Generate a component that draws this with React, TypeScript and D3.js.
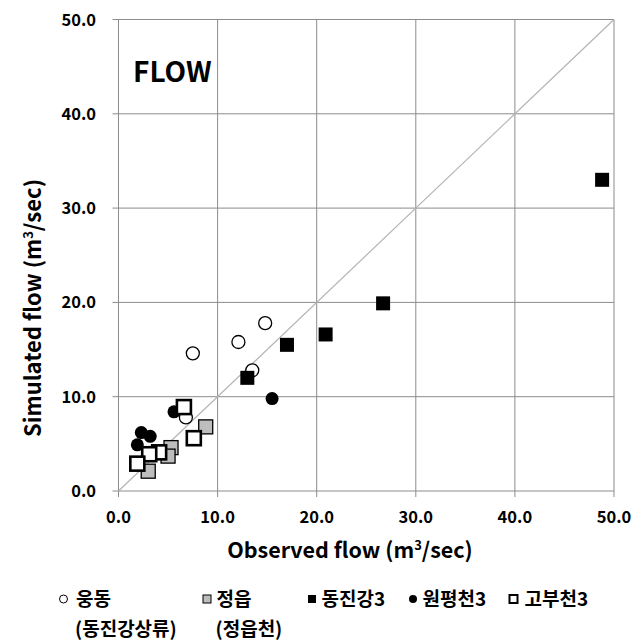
import React from 'react';
import * as d3 from 'd3';

const ungdongObs = [7.5, 12.1, 14.8, 13.5, 6.8];
const ungdongSim = [14.6, 15.8, 17.8, 12.8, 7.8];
const jeongeupObs = [8.8, 5.3, 5.0, 3.0];
const jeongeupSim = [6.8, 4.6, 3.7, 2.1];
const dongjinObs = [13.0, 17.0, 20.9, 26.7, 48.8];
const dongjinSim = [12.0, 15.5, 16.6, 19.9, 33.0];
const wonpyeongObs = [15.5, 5.6, 2.3, 3.2, 1.9];
const wonpyeongSim = [9.8, 8.4, 6.2, 5.8, 4.9];
const gobuObs = [6.6, 7.6, 4.1, 3.1, 1.9];
const gobuSim = [8.9, 5.6, 4.1, 3.9, 2.9];

const ticks = [0, 10, 20, 30, 40, 50];

// lx = legend marker centre, tx = legend text start
const series = [
  { name: '웅동', sub: '(동진강상류)', shape: 'circle', fill: '#fff', xs: ungdongObs, ys: ungdongSim, lx: 63.5, tx: 76 },
  { name: '정읍', sub: '(정읍천)', shape: 'square', fill: '#bdbdbd', xs: jeongeupObs, ys: jeongeupSim, lx: 207, tx: 216.5 },
  { name: '동진강3', sub: '', shape: 'square', fill: '#000', xs: dongjinObs, ys: dongjinSim, lx: 312, tx: 321.5 },
  { name: '원평천3', sub: '', shape: 'circle', fill: '#000', xs: wonpyeongObs, ys: wonpyeongSim, lx: 413, tx: 422.5 },
  { name: '고부천3', sub: '', shape: 'square', fill: '#fff', xs: gobuObs, ys: gobuSim, lx: 513.5, tx: 524.5 },
];

const font = "'Noto Sans CJK KR', 'Open Sans', sans-serif";

function Marker({ s, cx, cy, size, sw }: { s: any; cx: number; cy: number; size: number; sw: number }) {
  if (s.shape === 'circle') {
    return <circle cx={cx} cy={cy} r={size / 2} fill={s.fill} stroke="#000" strokeWidth={s.fill === '#000' ? 0 : sw} />;
  }
  const thick = s.fill === '#fff' ? sw * 2 : sw;
  return (
    <rect x={cx - size / 2} y={cy - size / 2} width={size} height={size}
      fill={s.fill} stroke="#000" strokeWidth={s.fill === '#000' ? 0 : thick} />
  );
}

export default function App() {
  const W = 643, H = 643;
  const left = 118.5, right = 614, top = 19.5, bottom = 491;

  const x = d3.scaleLinear().domain([0, 50]).range([left, right]);
  const y = d3.scaleLinear().domain([0, 50]).range([bottom, top]);

  return (
    <div style={{ position: 'absolute', left: 0, top: 0 }}>
      <svg width={W} height={H} style={{ display: 'block', background: '#fff' }} fontFamily={font}>
        {/* grid */}
        {ticks.map(t => (
          <g key={'g' + t}>
            <line x1={x(t)} x2={x(t)} y1={top} y2={bottom + 6} stroke="#8c8c8c" strokeWidth={1} />
            <line x1={left - 6} x2={right} y1={y(t)} y2={y(t)} stroke="#8c8c8c" strokeWidth={1} />
            <text x={x(t)} y={523} textAnchor="middle" fontSize={16.5} fontWeight="bold">{t.toFixed(1)}</text>
            <text x={96} y={y(t) + 6} textAnchor="end" fontSize={16.5} fontWeight="bold">{t.toFixed(1)}</text>
          </g>
        ))}

        {/* 1:1 line */}
        <line x1={x(0)} y1={y(0)} x2={x(50)} y2={y(50)} stroke="#b4b4b4" strokeWidth={1.2} />

        <text x={133} y={82} fontSize={28} fontWeight="bold">FLOW</text>

        {/* points */}
        {series.map(s => (
          <g key={s.name}>
            {s.xs.map((v, i) => (
              <Marker key={i} s={s} cx={x(v)} cy={y(s.ys[i])} size={s.shape === 'circle' ? 13 : 14} sw={1.3} />
            ))}
          </g>
        ))}

        {/* axis titles */}
        <text x={350} y={558} textAnchor="middle" fontSize={21.5} fontWeight="bold">
          Observed flow (m<tspan dy={-8} fontSize={13}>3</tspan><tspan dy={8}>/sec)</tspan>
        </text>
        <text transform={`translate(41,308) rotate(-90)`} textAnchor="middle" fontSize={22} fontWeight="bold">
          Simulated flow (m<tspan dy={-8} fontSize={13}>3</tspan><tspan dy={8}>/sec)</tspan>
        </text>

        {/* legend */}
        {series.map(s => (
          <g key={'l' + s.name}>
            <Marker s={s} cx={s.lx} cy={599} size={8} sw={1} />
            <text x={s.tx} y={606} fontSize={19} fontWeight="bold">{s.name}</text>
            {s.sub && <text x={s.tx - 1} y={636} fontSize={19} fontWeight="bold">{s.sub}</text>}
          </g>
        ))}
      </svg>
    </div>
  );
}
